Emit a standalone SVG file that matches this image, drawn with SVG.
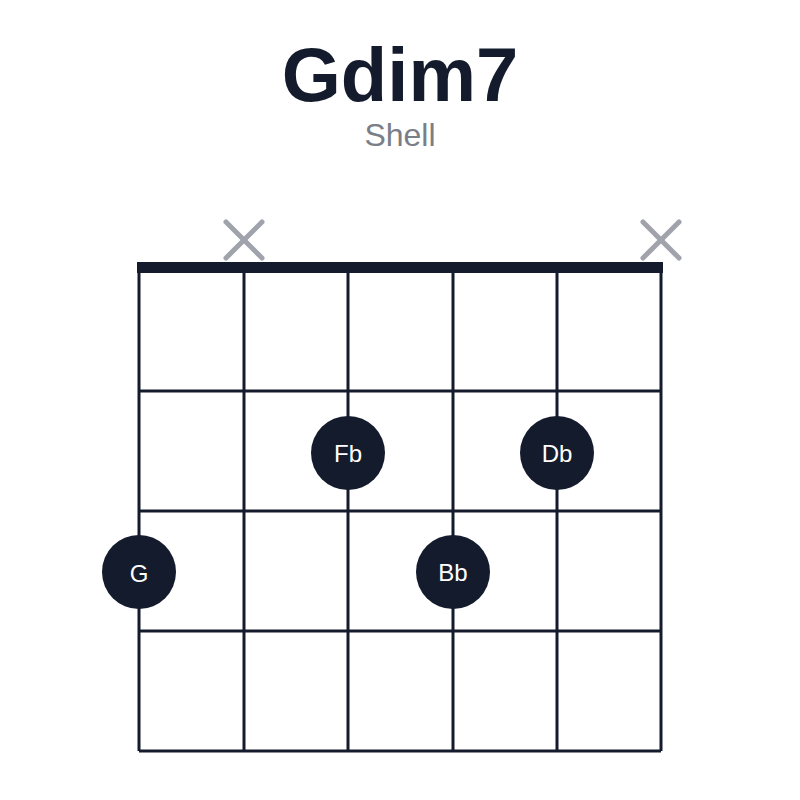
<svg xmlns="http://www.w3.org/2000/svg" width="800" height="800" viewBox="0 0 800 800">
<style>
.s{stroke:#141b2d;stroke-width:3;fill:none}
.x{stroke:#a0a3ab;stroke-width:5;stroke-linecap:round}
.d{fill:#141b2d}
.t{fill:#fff;font-family:"Liberation Sans",Arial,sans-serif;font-size:24px;text-anchor:middle}
</style>
<rect width="800" height="800" fill="#fff"/>
<text x="400" y="101" text-anchor="middle" font-family="Liberation Sans,Arial,sans-serif" font-weight="bold" font-size="76" fill="#141b2d">Gdim7</text>
<text x="400" y="146" text-anchor="middle" font-family="Liberation Sans,Arial,sans-serif" font-size="32" fill="#7a7e87">Shell</text>
<g id="grid" class="s">
<line x1="139" y1="267" x2="139" y2="751"/><line x1="244" y1="267" x2="244" y2="751"/><line x1="348" y1="267" x2="348" y2="751"/><line x1="453" y1="267" x2="453" y2="751"/><line x1="557" y1="267" x2="557" y2="751"/><line x1="661" y1="267" x2="661" y2="751"/>
<line x1="139" y1="391" x2="661" y2="391"/><line x1="139" y1="511" x2="661" y2="511"/><line x1="139" y1="631" x2="661" y2="631"/><line x1="139" y1="751" x2="661" y2="751"/>
</g>
<rect id="nut" x="137" y="262" width="526" height="11" fill="#141b2d"/>
<g id="mute1" class="x"><line x1="226" y1="222" x2="262" y2="258"/><line x1="262" y1="222" x2="226" y2="258"/></g>
<g id="mute6" class="x"><line x1="643" y1="222" x2="679" y2="258"/><line x1="679" y1="222" x2="643" y2="258"/></g>
<g id="Fb"><circle class="d" cx="348" cy="453" r="37"/><text class="t" x="348" y="462">Fb</text></g>
<g id="Db"><circle class="d" cx="557" cy="453" r="37"/><text class="t" x="557" y="462">Db</text></g>
<g id="G"><circle class="d" cx="139" cy="572" r="37"/><text class="t" x="139" y="582" font-size="28">G</text></g>
<g id="Bb"><circle class="d" cx="453" cy="572" r="37"/><text class="t" x="453" y="581">Bb</text></g>
</svg>
